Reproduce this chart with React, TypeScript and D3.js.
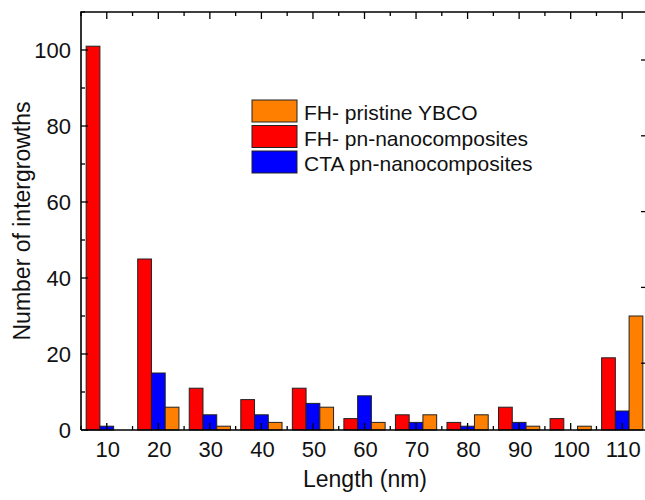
import React from 'react';
import * as d3 from 'd3';

// lengths (nm) and counts
const lengths = [10, 20, 30, 40, 50, 60, 70, 80, 90, 100, 110];
const fhPristine = [0, 6, 1, 2, 6, 2, 4, 4, 1, 1, 30];
const fhNano = [101, 45, 11, 8, 11, 3, 4, 2, 6, 3, 19];
const ctaNano = [1, 15, 4, 4, 7, 9, 2, 1, 2, 0, 5];

const seriesNames = ['FH- pristine YBCO', 'FH- pn-nanocomposites', 'CTA pn-nanocomposites'];
const seriesColors = ['#FF8000', '#FF0000', '#0000FF'];

const yTicks = [0, 20, 40, 60, 80, 100];

const W = 645;
const H = 500;
const font = "'Liberation Sans', Arial, sans-serif";

export default function App() {
  const x = d3.scaleLinear().domain([5, 115]).range([81, 648]);
  const y = d3.scaleLinear().domain([0, 110]).range([430, 12]);
  // right axis ticks in the original sit a bit off the left ones
  const y2 = d3.scaleLinear().domain([0, 100]).range([439, 60]);

  const barW = x(5 + 8 / 3) - x(5);
  // bar order inside a group: red, blue, orange
  const groups = [
    { vals: fhNano, color: seriesColors[1], off: -1.5 },
    { vals: ctaNano, color: seriesColors[2], off: -0.5 },
    { vals: fhPristine, color: seriesColors[0], off: 0.5 },
  ];

  const minorX = d3.range(5, 116, 5);
  const minorY = d3.range(0, 111, 10);

  return (
    <svg width={W} height={H} style={{ position: 'absolute', left: 0, top: 0, background: '#fff' }}>
      {groups.map((g, gi) =>
        lengths.map((c, i) => {
          const v = g.vals[i];
          if (v <= 0) return null;
          return (
            <rect
              key={gi + '-' + i}
              x={x(c) + g.off * barW}
              y={y(v)}
              width={barW}
              height={y(0) - y(v)}
              fill={g.color}
              stroke="#222"
              strokeWidth={1}
            />
          );
        })
      )}

      {/* frame */}
      <path d={`M${x(5)},${y(0)}V${y(110)}H${x(115)}`} fill="none" stroke="#000" strokeWidth={1.6} />
      <line x1={x(5)} x2={x(115)} y1={y(0)} y2={y(0)} stroke="#000" strokeWidth={1.6} />
      <line x1={x(115)} x2={x(115)} y1={y(0)} y2={y(110)} stroke="#000" strokeWidth={1.6} />

      {/* x ticks, bottom and top, pointing inward */}
      {minorX.map((t) => {
        const major = t % 10 === 0;
        const len = major ? 7 : 4;
        return (
          <g key={'xt' + t}>
            <line x1={x(t)} x2={x(t)} y1={y(0)} y2={y(0) - len} stroke="#000" strokeWidth={1.3} />
            <line x1={x(t)} x2={x(t)} y1={y(110)} y2={y(110) + len} stroke="#000" strokeWidth={1.3} />
          </g>
        );
      })}

      {/* y ticks left */}
      {minorY.map((t) => {
        const major = t % 20 === 0;
        const len = major ? 7 : 4;
        return <line key={'yt' + t} x1={x(5)} x2={x(5) + len} y1={y(t)} y2={y(t)} stroke="#000" strokeWidth={1.3} />;
      })}
      {/* y ticks right */}
      {yTicks.filter((t) => y2(t) < y(0)).map((t) => (
        <line key={'yr' + t} x1={x(115)} x2={x(115) - 7} y1={y2(t)} y2={y2(t)} stroke="#000" strokeWidth={1.3} />
      ))}

      {/* tick labels */}
      {lengths.map((c) => (
        <text key={'xl' + c} x={x(c) + 1} y={457} textAnchor="middle" fontFamily={font} fontSize={22} fill="#111">
          {c}
        </text>
      ))}
      {yTicks.map((t) => (
        <text key={'yl' + t} x={71} y={y(t) + 8} textAnchor="end" fontFamily={font} fontSize={22} fill="#111">
          {t}
        </text>
      ))}

      {/* axis titles */}
      <text x={365} y={487} textAnchor="middle" fontFamily={font} fontSize={23} fill="#111">
        Length (nm)
      </text>
      <text
        transform={`translate(30,221) rotate(-90)`}
        textAnchor="middle"
        fontFamily={font}
        fontSize={23}
        fill="#111"
      >
        Number of intergrowths
      </text>

      {/* legend */}
      {seriesNames.map((name, i) => {
        const top = 100 + i * 25.5;
        return (
          <g key={'lg' + i}>
            <rect x={252} y={top} width={45} height={22} fill={seriesColors[i]} stroke="#222" strokeWidth={1} />
            <text x={304} y={top + 20} fontFamily={font} fontSize={21} fill="#111">
              {name}
            </text>
          </g>
        );
      })}
    </svg>
  );
}
